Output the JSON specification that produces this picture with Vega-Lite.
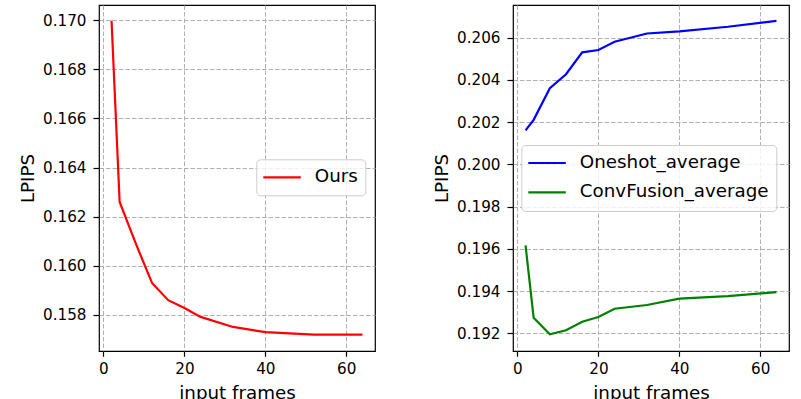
{
  "$schema": "https://vega.github.io/schema/vega-lite/v6.json",
  "padding": {"left": 17, "top": 4, "right": 5, "bottom": 5},
  "background": "white",
  "bounds": "flush",
  "spacing": 138,
  "config": {
    "font": "DejaVu Sans",
    "view": {"stroke": "black", "strokeWidth": 1.2},
    "axis": {
      "labelFont": "DejaVu Sans", "labelFontSize": 15.2, "labelColor": "black",
      "titleFont": "DejaVu Sans", "titleFontSize": 18.3, "titleFontWeight": "normal", "titleColor": "black",
      "tickColor": "black", "tickWidth": 1.2,
      "domain": false,
      "gridColor": "#b0b0b0", "gridDash": [4.5, 2], "gridWidth": 1, "gridOpacity": 1
    },
    "axisX": {"tickSize": 5.3, "labelPadding": 5, "titlePadding": 8},
    "axisY": {"tickSize": 6, "labelPadding": 7, "titlePadding": 5},
    "legend": {
      "labelFont": "DejaVu Sans", "labelFontSize": 18.3, "labelColor": "black", "labelLimit": 400,
      "symbolType": "stroke", "symbolStrokeWidth": 2.2, "symbolSize": 1521, "symbolOffset": -3,
      "clipHeight": 22,
      "fillColor": "rgba(255,255,255,0.8)", "strokeColor": "#cccccc", "cornerRadius": 4,
      "padding": 7, "labelOffset": 12.5, "rowPadding": 7.3, "orient": "none"
    }
  },
  "resolve": {"scale": {"color": "independent", "y": "independent"}, "legend": {"color": "independent"}},
  "hconcat": [
    {
      "width": 276, "height": 346,
      "data": {"values": [
        {"frames": 2, "lpips": 0.16998, "method": "Ours"},
        {"frames": 4, "lpips": 0.1626, "method": "Ours"},
        {"frames": 8, "lpips": 0.1609, "method": "Ours"},
        {"frames": 12, "lpips": 0.1593, "method": "Ours"},
        {"frames": 16, "lpips": 0.1586, "method": "Ours"},
        {"frames": 20, "lpips": 0.15828, "method": "Ours"},
        {"frames": 24, "lpips": 0.15792, "method": "Ours"},
        {"frames": 32, "lpips": 0.15751, "method": "Ours"},
        {"frames": 40, "lpips": 0.1573, "method": "Ours"},
        {"frames": 52, "lpips": 0.1572, "method": "Ours"},
        {"frames": 64, "lpips": 0.1572, "method": "Ours"}
      ]},
      "mark": {"type": "line", "strokeWidth": 2.2},
      "encoding": {
        "x": {"field": "frames", "type": "quantitative", "title": "input frames",
              "scale": {"domain": [-1.1, 67.1], "nice": false, "zero": false},
              "axis": {"values": [0, 20, 40, 60]}},
        "y": {"field": "lpips", "type": "quantitative", "title": "LPIPS",
              "scale": {"domain": [0.15653, 0.17062], "nice": false, "zero": false},
              "axis": {"values": [0.158, 0.16, 0.162, 0.164, 0.166, 0.168, 0.17], "format": ".3f"}},
        "color": {"field": "method", "type": "nominal",
                  "scale": {"domain": ["Ours"], "range": ["#ff0000"]},
                  "legend": {"title": null, "legendX": 157.3, "legendY": 154.3}}
      }
    },
    {
      "width": 276, "height": 346,
      "data": {"values": [
        {"frames": 2, "lpips": 0.20161, "method": "Oneshot_average"},
        {"frames": 4, "lpips": 0.20211, "method": "Oneshot_average"},
        {"frames": 8, "lpips": 0.20361, "method": "Oneshot_average"},
        {"frames": 12, "lpips": 0.20427, "method": "Oneshot_average"},
        {"frames": 16, "lpips": 0.20531, "method": "Oneshot_average"},
        {"frames": 20, "lpips": 0.20542, "method": "Oneshot_average"},
        {"frames": 24, "lpips": 0.20581, "method": "Oneshot_average"},
        {"frames": 32, "lpips": 0.2062, "method": "Oneshot_average"},
        {"frames": 40, "lpips": 0.2063, "method": "Oneshot_average"},
        {"frames": 52, "lpips": 0.20652, "method": "Oneshot_average"},
        {"frames": 64, "lpips": 0.2068, "method": "Oneshot_average"},
        {"frames": 2, "lpips": 0.19616, "method": "ConvFusion_average"},
        {"frames": 4, "lpips": 0.19274, "method": "ConvFusion_average"},
        {"frames": 8, "lpips": 0.19195, "method": "ConvFusion_average"},
        {"frames": 12, "lpips": 0.19214, "method": "ConvFusion_average"},
        {"frames": 16, "lpips": 0.19255, "method": "ConvFusion_average"},
        {"frames": 20, "lpips": 0.19277, "method": "ConvFusion_average"},
        {"frames": 24, "lpips": 0.19316, "method": "ConvFusion_average"},
        {"frames": 32, "lpips": 0.19334, "method": "ConvFusion_average"},
        {"frames": 40, "lpips": 0.19364, "method": "ConvFusion_average"},
        {"frames": 52, "lpips": 0.19376, "method": "ConvFusion_average"},
        {"frames": 64, "lpips": 0.19395, "method": "ConvFusion_average"}
      ]},
      "mark": {"type": "line", "strokeWidth": 2.2},
      "encoding": {
        "x": {"field": "frames", "type": "quantitative", "title": "input frames",
              "scale": {"domain": [-1.1, 67.1], "nice": false, "zero": false},
              "axis": {"values": [0, 20, 40, 60]}},
        "y": {"field": "lpips", "type": "quantitative", "title": "LPIPS",
              "scale": {"domain": [0.19116, 0.20755], "nice": false, "zero": false},
              "axis": {"values": [0.192, 0.194, 0.196, 0.198, 0.2, 0.202, 0.204, 0.206], "format": ".3f"}},
        "color": {"field": "method", "type": "nominal",
                  "scale": {"domain": ["Oneshot_average", "ConvFusion_average"], "range": ["#0000ff", "#008000"]},
                  "legend": {"title": null, "legendX": 8.3, "legendY": 140}}
      }
    }
  ]
}
